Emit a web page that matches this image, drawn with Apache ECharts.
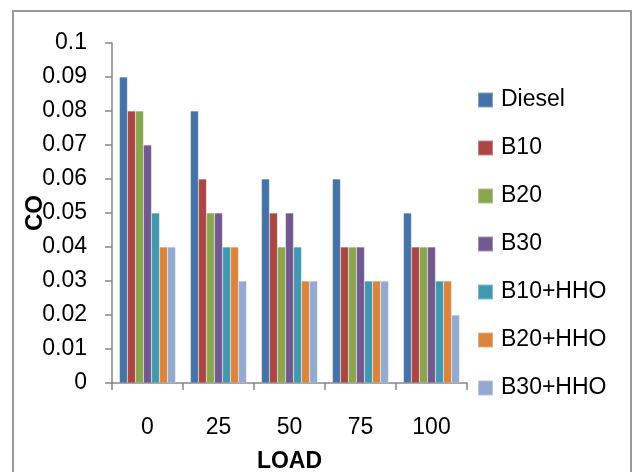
<!DOCTYPE html>
<html>
<head>
<meta charset="utf-8">
<script src="https://cdn.jsdelivr.net/npm/echarts@6/dist/echarts.min.js"></script>
<style>
  html, body { margin: 0; padding: 0; background: #fff; overflow: hidden; }
  #wrap { position: relative; width: 635px; height: 472px; overflow: hidden; }
  #chart { position: absolute; left: 0; top: 0; width: 635px; height: 472px; }
  /* chart-area frame, open at the bottom edge */
  #frame {
    position: absolute; left: 12px; top: 10px; width: 616px; height: 480px;
    border: 2px solid #9a9a9a; border-bottom: none; pointer-events: none; z-index: 5;
  }
</style>
</head>
<body>
<div id="wrap">
  <div id="chart"></div>
  <div id="frame"></div>
</div>
<script>
// CO emissions by engine load for each fuel blend
const loads = ['0', '25', '50', '75', '100'];
const seriesNames = ['Diesel', 'B10', 'B20', 'B30', 'B10+HHO', 'B20+HHO', 'B30+HHO'];
const diesel = [0.09, 0.08, 0.06, 0.06, 0.05];
const b10    = [0.08, 0.06, 0.05, 0.04, 0.04];
const b20    = [0.08, 0.05, 0.04, 0.04, 0.04];
const b30    = [0.07, 0.05, 0.05, 0.04, 0.04];
const b10hho = [0.05, 0.04, 0.04, 0.03, 0.03];
const b20hho = [0.04, 0.04, 0.03, 0.03, 0.03];
const b30hho = [0.04, 0.03, 0.03, 0.03, 0.02];
const yTickLabels = ['0', '0.01', '0.02', '0.03', '0.04', '0.05', '0.06', '0.07', '0.08', '0.09', '0.1'];

const seriesValues = [diesel, b10, b20, b30, b10hho, b20hho, b30hho];
const colors = ['#4572A7', '#AA4643', '#89A54E', '#71588F', '#4198AF', '#DB843D', '#93A9CF'];
const FONT = '"Liberation Sans", Arial, sans-serif';
const axisGray = '#868686';

const chart = echarts.init(document.getElementById('chart'), null, { renderer: 'canvas' });

chart.setOption({
  animation: false,
  backgroundColor: '#ffffff',
  color: colors,
  textStyle: { fontFamily: FONT },
  grid: { left: 112, top: 43, right: 168, bottom: 89, containLabel: false, outerBoundsMode: 'none' },
  legend: {
    orient: 'vertical',
    left: 477,
    top: 88,
    padding: 0,
    itemWidth: 15,
    itemHeight: 15,
    itemGap: 24,
    icon: 'rect',
    textStyle: { fontFamily: FONT, fontSize: 23, color: '#000', lineHeight: 24, padding: [0, 0, 0, 3] },
    data: seriesNames
  },
  xAxis: {
    type: 'category',
    data: loads,
    name: 'LOAD',
    nameLocation: 'middle',
    nameGap: 67,
    nameMoveOverlap: false,
    nameTextStyle: { fontFamily: FONT, fontSize: 23, fontWeight: 'bold', color: '#000' },
    axisLine: { lineStyle: { color: axisGray, width: 1.5 } },
    axisTick: { show: true, length: 7, lineStyle: { color: axisGray, width: 1.5 } },
    axisLabel: { fontFamily: FONT, fontSize: 23, color: '#000', margin: 33 },
    splitLine: { show: false }
  },
  yAxis: {
    type: 'value',
    min: 0,
    max: 0.1,
    interval: 0.01,
    name: 'CO',
    nameLocation: 'middle',
    nameGap: 65,
    nameRotate: 90,
    nameMoveOverlap: false,
    nameTextStyle: { fontFamily: FONT, fontSize: 24, fontWeight: 'bold', color: '#000' },
    axisLine: { show: true, lineStyle: { color: axisGray, width: 1.5 } },
    axisTick: { show: true, length: 7, lineStyle: { color: axisGray, width: 1.5 } },
    axisLabel: {
      fontFamily: FONT, fontSize: 23, color: '#000', margin: 25,
      formatter: v => yTickLabels[Math.round(v / 0.01)]
    },
    splitLine: { show: false }
  },
  series: seriesNames.map((name, i) => ({
    name,
    type: 'bar',
    data: seriesValues[i],
    barGap: '0%',
    barCategoryGap: '21%',
    itemStyle: { color: colors[i], borderColor: 'rgba(255,255,255,0.35)', borderWidth: 0.5 }
  }))
});
</script>
</body>
</html>
